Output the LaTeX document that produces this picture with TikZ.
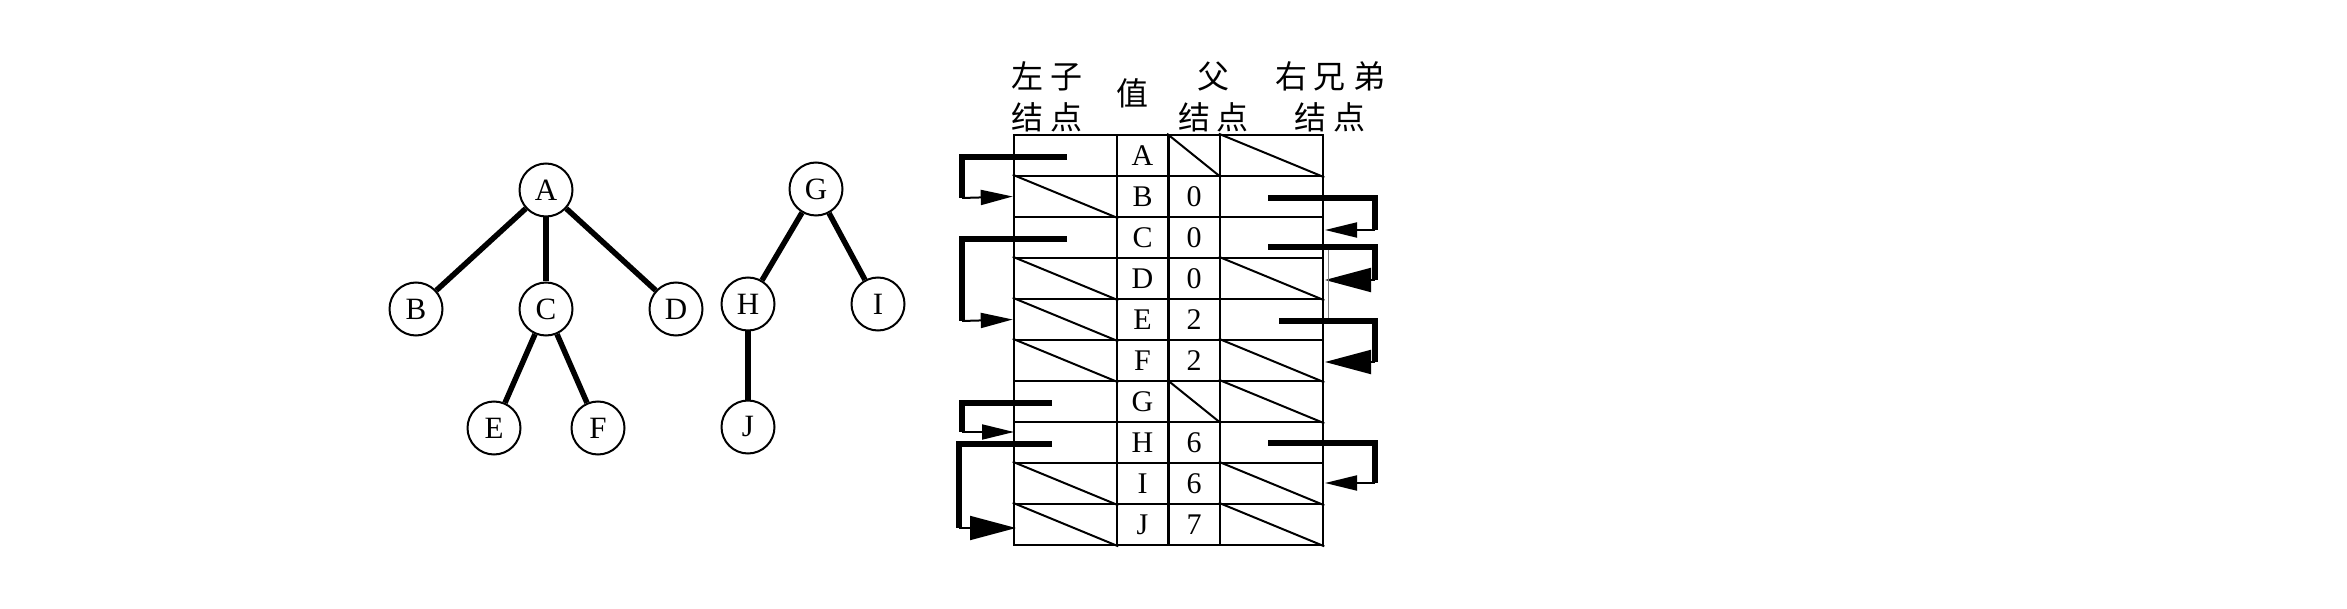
\documentclass[tikz,border=0pt]{standalone}
\usepackage{fontspec}
\setmainfont{Liberation Serif}
\newfontfamily\cjk{Noto Sans CJK SC}
\usetikzlibrary{arrows.meta}
\newcommand{\cs}{\hspace{7pt}}
\begin{document}
\begin{tikzpicture}[x=1pt,y=-1pt,
  tnode/.style={circle,draw,line width=2pt,minimum size=53pt,inner sep=0pt,font=\fontsize{31}{31}\selectfont},
  tedge/.style={line width=5.5pt},
  cell/.style={draw,line width=2.5pt,inner sep=0pt,minimum height=41pt,font=\fontsize{30}{30}\selectfont},
  wcell/.style={cell,minimum width=103pt},
  ncell/.style={cell,minimum width=51.5pt},
  hdr/.style={font=\cjk\fontsize{32}{40.6}\selectfont,align=center,inner sep=0pt},
  thk/.style={line width=5.5pt},
  thn/.style={line width=2pt},
  sh/.style={-{Triangle[length=32pt,width=15pt]}},
  bh/.style={-{Triangle[length=46pt,width=24pt]}}
]
\useasboundingbox (0,0) rectangle (2347,609);
% tree
\node[tnode] (A) at (546,190) {A};
\node[tnode] (B) at (416,309) {B};
\node[tnode] (C) at (546,309) {C};
\node[tnode] (D) at (676,309) {D};
\node[tnode] (E) at (494,428) {E};
\node[tnode] (F) at (598,428) {F};
\node[tnode] (G) at (816,189) {G};
\node[tnode] (H) at (748,304) {H};
\node[tnode] (I) at (878,304) {I};
\node[tnode] (J) at (748,427) {J};
\draw[tedge] (A) -- (B);
\draw[tedge] (A) -- (C);
\draw[tedge] (A) -- (D);
\draw[tedge] (C) -- (E);
\draw[tedge] (C) -- (F);
\draw[tedge] (G) -- (H);
\draw[tedge] (G) -- (I);
\draw[tedge] (H) -- (J);
% headers
\node[hdr] (h1) at (1047,97) {左\cs 子\\结\cs 点};
\node[hdr] (h2) at (1132.5,93.5) {值};
\node[hdr] (h3) at (1213.5,97) {父\\结\cs 点};
\node[hdr] (h4) at (1330,97) {右\cs 兄\cs 弟\\结\cs 点};
% table
\foreach \i/\v/\p in {0/A/,1/B/0,2/C/0,3/D/0,4/E/2,5/F/2,6/G/,7/H/6,8/I/6,9/J/7}{
  \pgfmathsetmacro{\yy}{135+41*(\i+0.5)}
  \node[wcell] (L\i) at (1065.5,\yy) {};
  \node[ncell] (V\i) at (1142.5,\yy) {\v};
  \node[ncell] (P\i) at (1194,\yy) {\p};
  \node[wcell] (R\i) at (1271.5,\yy) {};
}
\foreach \i in {1,3,4,5,8,9}{\draw[thn] (L\i.north west) -- (L\i.south east);}
\foreach \i in {0,6}{\draw[thn] (P\i.north west) -- (P\i.south east);}
\foreach \i in {0,3,5,6,8,9}{\draw[thn] (R\i.north west) -- (R\i.south east);}
% left arrows
\coordinate (la1) at (1067,157);
\coordinate (la2) at (962,198);
\draw[thk] (la1) -| (la2);
\draw[thn,sh] (la2) -- (L1.west);
\coordinate (lb1) at (1067,239);
\coordinate (lb2) at (962,321);
\draw[thk] (lb1) -| (lb2);
\draw[thn,sh] (lb2) -- (L4.west);
\coordinate (lc1) at (1052,403);
\coordinate (lc2) at (962,432);
\coordinate (lc3) at (1014,432);
\draw[thk] (lc1) -| (lc2);
\draw[thn,sh] (lc2) -- (lc3);
\coordinate (ld1) at (1052,444);
\coordinate (ld2) at (959,528);
\coordinate (ld3) at (1016,528);
\draw[thk] (ld1) -| (ld2);
\draw[thn,bh] (ld2) -- (ld3);
% right arrows
\coordinate (ra1) at (1268,198);
\coordinate (ra2) at (1375,230);
\coordinate (ra3) at (1325,230);
\draw[thk] (ra1) -| (ra2);
\draw[thn,sh] (ra2) -- (ra3);
\coordinate (rb1) at (1268,247);
\coordinate (rb2) at (1375,280);
\coordinate (rb3) at (1325,280);
\draw[thk] (rb1) -| (rb2);
\draw[thn,bh] (rb2) -- (rb3);
\coordinate (rc1) at (1279,321);
\coordinate (rc2) at (1375,362);
\coordinate (rc3) at (1325,362);
\draw[thk] (rc1) -| (rc2);
\draw[thn,bh] (rc2) -- (rc3);
\coordinate (rd1) at (1268,443);
\coordinate (rd2) at (1375,483);
\coordinate (rd3) at (1325,483);
\draw[thk] (rd1) -| (rd2);
\draw[thn,sh] (rd2) -- (rd3);
\coordinate (x1) at (1328,250);
\coordinate (x2) at (1328,318);
\draw[line width=1pt,gray] (x1) -- (x2);
\end{tikzpicture}
\end{document}
